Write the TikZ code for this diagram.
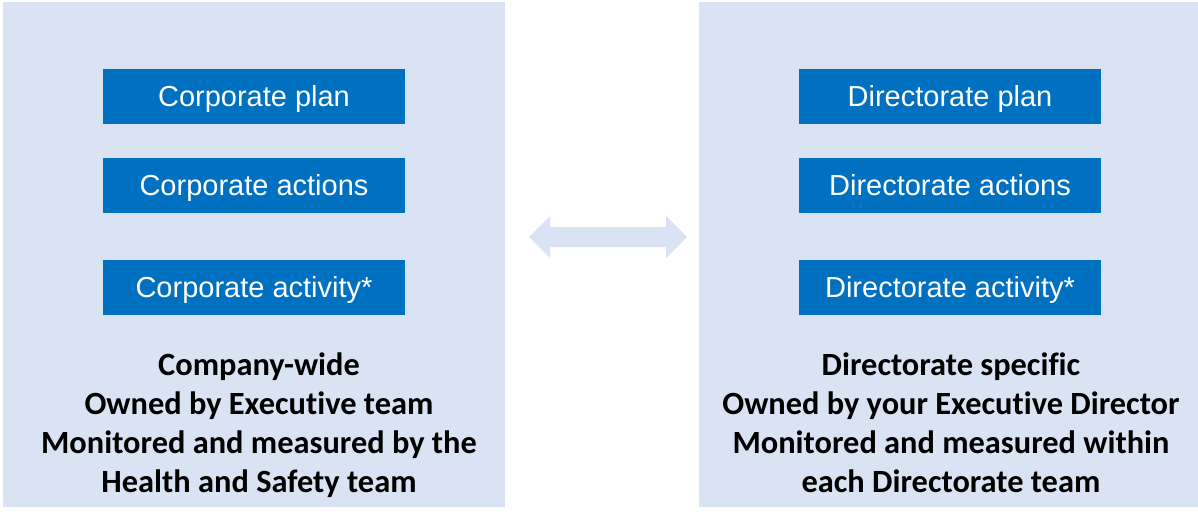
\documentclass[tikz,border=0pt]{standalone}
\usepackage{fontspec}
\setmainfont{Liberation Sans}
\newfontfamily\boldcal{Carlito}[BoldFont={Carlito Bold},Ligatures=CommonOff]
\definecolor{panelblue}{HTML}{DAE3F3}
\definecolor{boxblue}{HTML}{0070C0}
\begin{document}
\begin{tikzpicture}[x=1pt,y=-1pt,
  panel/.style={fill=panelblue,draw=none},
  bluebox/.style={fill=boxblue,draw=none,text=white,minimum width=302pt,minimum height=55pt,inner sep=0pt,text height=21pt,text depth=0pt,font=\fontsize{29}{34}\selectfont},
  caption/.style={align=center,inner sep=0pt,anchor=base,font=\boldcal\bfseries\fontsize{32.4}{38.7}\selectfont}]
\useasboundingbox (0,0) rectangle (1198,511);
\fill[panel] (3,2) rectangle (505,507);
\fill[panel] (699,2) rectangle (1198,507);
\node[bluebox] (cp) at (254,96) {Corporate plan};
\node[bluebox] (ca) at (254,185) {Corporate actions};
\node[bluebox] (cv) at (254,287) {Corporate activity*};
\node[bluebox] (dp) at (950,96) {Directorate plan};
\node[bluebox] (da) at (950,185) {Directorate actions};
\node[bluebox] (dv) at (950,287) {Directorate activity*};
\node[caption] (ct) at (259,492) {Company-wide\\Owned by Executive team\\Monitored and measured by the\\Health and Safety team};
\node[caption] (dt) at (951,492) {Directorate specific\\Owned by your Executive Director\\Monitored and measured within\\each Directorate team};
\fill[panelblue] (529,237) -- (550,216) -- (550,227) -- (666,227) -- (666,216) -- (687,237) -- (666,258) -- (666,247) -- (550,247) -- (550,258) -- cycle;
\end{tikzpicture}
\end{document}
